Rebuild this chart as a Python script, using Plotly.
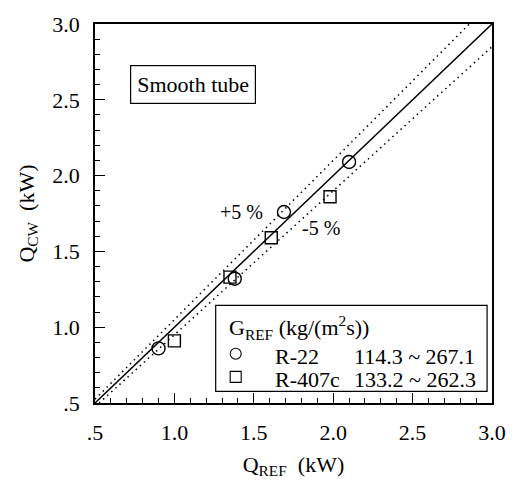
import plotly.graph_objects as go

# Measured heat-transfer rates (kW): refrigerant side vs. cooling-water side
r22_q_ref = [0.90, 1.38, 1.69, 2.10]
r22_q_cw = [0.86, 1.32, 1.76, 2.09]

r407c_q_ref = [1.00, 1.35, 1.61, 1.98]
r407c_q_cw = [0.91, 1.33, 1.59, 1.86]

# Parity line and +/-5 % deviation bands
parity_x = [0.5, 3.0]
deviation = 0.05

tick_vals = [0.5, 1.0, 1.5, 2.0, 2.5, 3.0]
tick_text = [".5", "1.0", "1.5", "2.0", "2.5", "3.0"]

FONT = "Times New Roman"
BLACK = "black"
FS = 22

fig = go.Figure()

fig.add_trace(go.Scatter(
    x=parity_x, y=parity_x, mode="lines",
    line=dict(color=BLACK, width=1.5), showlegend=False, hoverinfo="skip"))
fig.add_trace(go.Scatter(
    x=parity_x, y=[v * (1 + deviation) for v in parity_x], mode="lines",
    line=dict(color=BLACK, width=1.5, dash="1.5px,4px"), showlegend=False, hoverinfo="skip"))
fig.add_trace(go.Scatter(
    x=parity_x, y=[v * (1 - deviation) for v in parity_x], mode="lines",
    line=dict(color=BLACK, width=1.5, dash="1.5px,4px"), showlegend=False, hoverinfo="skip"))

fig.add_trace(go.Scatter(
    x=r22_q_ref, y=r22_q_cw, mode="markers", name="R-22",
    marker=dict(symbol="circle-open", size=13, color=BLACK, line=dict(width=1.4)),
    showlegend=False, cliponaxis=False))
fig.add_trace(go.Scatter(
    x=r407c_q_ref, y=r407c_q_cw, mode="markers", name="R-407c",
    marker=dict(symbol="square-open", size=12, color=BLACK, line=dict(width=1.4)),
    showlegend=False, cliponaxis=False))

axis_common = dict(
    range=[0.5, 3.0],
    tickvals=tick_vals, ticktext=tick_text,
    ticks="inside", ticklen=10, tickwidth=1.3, tickcolor=BLACK,
    minor=dict(dtick=0.1, ticks="inside", ticklen=5, tickwidth=1, tickcolor=BLACK),
    showline=True, linecolor=BLACK, linewidth=1.6, mirror=True,
    showgrid=False, zeroline=False,
    tickfont=dict(family=FONT, size=FS, color=BLACK),
)

fig.update_xaxes(
    **axis_common,
    ticklabelstandoff=9,
    title=dict(text="Q<sub>REF</sub>  (kW)", font=dict(family=FONT, size=FS, color=BLACK), standoff=12),
)
fig.update_yaxes(
    **axis_common,
    ticklabelstandoff=9,
    title=dict(text="Q<sub>CW</sub>  (kW)", font=dict(family=FONT, size=FS, color=BLACK), standoff=12),
)

txt = dict(family=FONT, size=FS, color=BLACK)

# Tube type label
fig.add_annotation(x=1.116, y=2.600, xref="x", yref="y", text="Smooth tube",
                   showarrow=False, font=txt, bordercolor=BLACK, borderwidth=1.2,
                   borderpad=6, bgcolor="white")

# Deviation band labels
fig.add_annotation(x=1.423, y=1.763, xref="x", yref="y", text="+5 %",
                   showarrow=False, font=dict(family=FONT, size=20, color=BLACK))
fig.add_annotation(x=1.926, y=1.654, xref="x", yref="y", text="-5 %",
                   showarrow=False, font=dict(family=FONT, size=20, color=BLACK))

# Key box with mass-flux ranges
fig.add_shape(type="rect", xref="x", yref="y", x0=1.260, x1=2.969, y0=0.577, y1=1.144,
              line=dict(color=BLACK, width=1.2), fillcolor="white", layer="above")
fig.add_annotation(x=1.329, y=1.000, xref="x", yref="y", xanchor="left",
                   text="G<sub>REF</sub> (kg/(m<sup>2</sup>s))", showarrow=False, font=txt)

key_rows = [
    ("circle", "R-22", "114.3 ~ 267.1", 0.825),
    ("rect", "R-407c", "133.2 ~ 262.3", 0.672),
]
for shape_type, label, flux_range, row_y in key_rows:
    fig.add_shape(type=shape_type, xref="x", yref="y",
                  xsizemode="pixel", ysizemode="pixel",
                  xanchor=1.386, yanchor=row_y, x0=-5.5, x1=5.5, y0=-5.5, y1=5.5,
                  line=dict(color=BLACK, width=1.1), layer="above")
    fig.add_annotation(x=1.618, y=row_y - 0.02, xref="x", yref="y", xanchor="left",
                       text=label, showarrow=False, font=txt)
    fig.add_annotation(x=2.121, y=row_y - 0.02, xref="x", yref="y", xanchor="left",
                       text=flux_range, showarrow=False, font=txt)

fig.update_layout(
    width=518, height=485,
    margin=dict(l=95, r=25, t=17, b=76),
    paper_bgcolor="white", plot_bgcolor="white",
    font=dict(family=FONT, size=FS, color=BLACK),
    showlegend=False,
)

fig.write_html("out.html")
